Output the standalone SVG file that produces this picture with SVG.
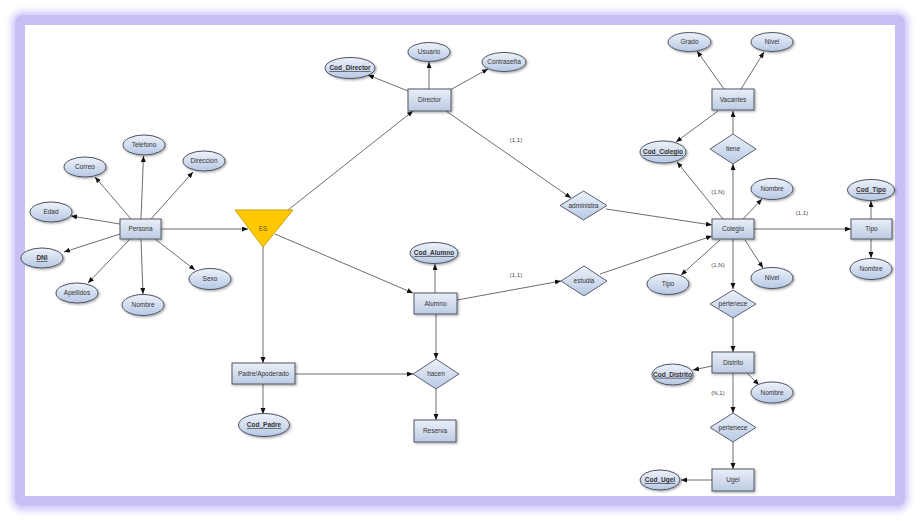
<svg xmlns="http://www.w3.org/2000/svg" width="920" height="521" viewBox="0 0 920 521">
  <defs>
    <linearGradient id="gFill" x1="0" y1="0" x2="0" y2="1">
      <stop offset="0" stop-color="#eef2fa"/>
      <stop offset="1" stop-color="#b7c8e4"/>
    </linearGradient>
    <linearGradient id="gRect" x1="0" y1="0" x2="0" y2="1">
      <stop offset="0" stop-color="#eaeff8"/>
      <stop offset="1" stop-color="#bccbe3"/>
    </linearGradient>
    <filter id="glow" x="-5%" y="-5%" width="110%" height="110%">
      <feGaussianBlur stdDeviation="3"/>
    </filter>
    <filter id="shadow" x="-20%" y="-20%" width="150%" height="160%">
      <feDropShadow dx="1.2" dy="1.2" stdDeviation="0.8" flood-color="#000" flood-opacity="0.35"/>
    </filter>
    <marker id="arrow" markerUnits="userSpaceOnUse" markerWidth="7" markerHeight="6" refX="6" refY="2.5" orient="auto">
      <path d="M0,0 L6,2.5 L0,5 z" fill="#111"/>
    </marker>
  </defs>
  <style>
    .ent { fill: url(#gRect); stroke: #505866; stroke-width: 1; filter: url(#shadow); }
    .att { fill: url(#gFill); stroke: #4e5564; stroke-width: 1; filter: url(#shadow); }
    .rel { fill: url(#gFill); stroke: #5a6170; stroke-width: 1; }
    .lbl { font-family: "Liberation Sans", Arial, sans-serif; font-size: 6.5px; fill: #333; text-anchor: middle; }
    .key { font-weight: bold; text-decoration: underline; }
    .card { font-family: "Liberation Sans", Arial, sans-serif; font-size: 6px; fill: #444; text-anchor: middle; }
    .con { stroke: #6e6e6e; stroke-width: 1; fill: none; marker-end: url(#arrow); }
  </style>

  <!-- frame -->
  <rect x="11" y="11" width="898" height="500" rx="12" fill="#d3cdf9" filter="url(#glow)"/>
  <rect x="15" y="15" width="890" height="491" rx="8" fill="#c8c0f5"/>
  <rect x="25" y="25" width="870" height="471" fill="#ffffff"/>

  <!-- connectors -->
  <g id="connectors">
    <line class="con" x1="141" y1="219" x2="143.5" y2="156"/>
    <line class="con" x1="131" y1="219" x2="95" y2="177"/>
    <line class="con" x1="151" y1="219" x2="193" y2="172"/>
    <line class="con" x1="120" y1="224" x2="71" y2="216"/>
    <line class="con" x1="120" y1="234" x2="64" y2="252"/>
    <line class="con" x1="130" y1="239" x2="88" y2="283"/>
    <line class="con" x1="141" y1="239" x2="143" y2="294"/>
    <line class="con" x1="155" y1="239" x2="195" y2="270"/>
    <line class="con" x1="161" y1="229" x2="248" y2="229"/>

    <line class="con" x1="288" y1="210" x2="413" y2="111"/>
    <line class="con" x1="275" y1="234" x2="413" y2="293"/>
    <line class="con" x1="263" y1="247" x2="263" y2="363"/>

    <line class="con" x1="408" y1="91" x2="368" y2="75"/>
    <line class="con" x1="429" y1="89" x2="429" y2="62"/>
    <line class="con" x1="450" y1="90" x2="488" y2="69"/>
    <line class="con" x1="446" y1="111" x2="571" y2="198"/>
    <line class="con" x1="606" y1="209" x2="712" y2="225"/>

    <line class="con" x1="435" y1="293" x2="435" y2="264"/>
    <line class="con" x1="457" y1="300" x2="561" y2="281"/>
    <line class="con" x1="600" y1="274" x2="712" y2="236"/>
    <line class="con" x1="436" y1="314" x2="436" y2="359"/>
    <line class="con" x1="295" y1="374" x2="413" y2="374"/>
    <line class="con" x1="436" y1="389" x2="436" y2="420"/>
    <line class="con" x1="263" y1="384" x2="263" y2="414"/>

    <line class="con" x1="733" y1="219" x2="733" y2="164"/>
    <line class="con" x1="733" y1="134" x2="733" y2="111"/>
    <line class="con" x1="724" y1="89" x2="697" y2="51"/>
    <line class="con" x1="741" y1="89" x2="764" y2="52"/>
    <line class="con" x1="718" y1="111" x2="676" y2="142"/>
    <line class="con" x1="723" y1="219" x2="677" y2="162"/>
    <line class="con" x1="743" y1="219" x2="762" y2="199"/>
    <line class="con" x1="754" y1="229" x2="851" y2="229"/>
    <line class="con" x1="871" y1="219" x2="871" y2="201"/>
    <line class="con" x1="871" y1="239" x2="871" y2="258"/>
    <line class="con" x1="720" y1="240" x2="681" y2="275"/>
    <line class="con" x1="745" y1="240" x2="763" y2="268"/>
    <line class="con" x1="733" y1="239" x2="733" y2="289"/>
    <line class="con" x1="733" y1="318" x2="733" y2="352"/>
    <line class="con" x1="712" y1="366" x2="693" y2="370"/>
    <line class="con" x1="747" y1="373" x2="759" y2="385"/>
    <line class="con" x1="733" y1="373" x2="733" y2="413"/>
    <line class="con" x1="733" y1="442" x2="733" y2="469"/>
    <line class="con" x1="712" y1="480" x2="681" y2="480"/>
  </g>

  <!-- cardinalities -->
  <g id="cardinalities">
    <text class="card" x="516" y="142">(1,1)</text>
    <text class="card" x="516" y="277">(1,1)</text>
    <text class="card" x="718" y="194">(1,N)</text>
    <text class="card" x="802" y="215">(1,1)</text>
    <text class="card" x="718" y="267">(1,N)</text>
    <text class="card" x="718" y="395">(N,1)</text>
  </g>

  <!-- Persona and attributes -->
  <g id="persona"><rect class="ent" x="120" y="219" width="41" height="20"/><text class="lbl" x="140.5" y="231.3">Persona</text></g>
  <g id="telefono"><ellipse class="att" cx="144" cy="145" rx="21" ry="10"/><text class="lbl" x="144" y="147.3">Telefono</text></g>
  <g id="correo"><ellipse class="att" cx="85" cy="167" rx="21" ry="10"/><text class="lbl" x="85" y="169.3">Correo</text></g>
  <g id="direccion"><ellipse class="att" cx="204" cy="161" rx="21" ry="10"/><text class="lbl" x="204" y="163.3">Direccion</text></g>
  <g id="edad"><ellipse class="att" cx="51" cy="212" rx="21" ry="10"/><text class="lbl" x="51" y="214.3">Edad</text></g>
  <g id="dni"><ellipse class="att" cx="42" cy="258" rx="21" ry="10"/><text class="lbl key" x="42" y="260.3">DNI</text></g>
  <g id="apellidos"><ellipse class="att" cx="77" cy="293" rx="21" ry="10"/><text class="lbl" x="77" y="295.3">Apellidos</text></g>
  <g id="nombre-persona"><ellipse class="att" cx="143" cy="305" rx="21" ry="10.5"/><text class="lbl" x="143" y="307.3">Nombre</text></g>
  <g id="sexo"><ellipse class="att" cx="210" cy="279" rx="21" ry="10.5"/><text class="lbl" x="210" y="281.3">Sexo</text></g>

  <!-- ES specialization -->
  <g id="es">
    <polygon points="235,210 293,210 263,247" fill="#ffc800" stroke="#c9a200" stroke-width="1"/>
    <text class="lbl" x="263" y="231.3" fill="#6b5410" style="fill:#6b5410">ES</text>
  </g>

  <!-- Director -->
  <g id="director"><rect class="ent" x="408" y="89" width="43" height="22"/><text class="lbl" x="429.5" y="102.3">Director</text></g>
  <g id="cod-director"><ellipse class="att" cx="350" cy="68" rx="25" ry="10.5"/><text class="lbl key" x="350" y="70.3">Cod_Director</text></g>
  <g id="usuario"><ellipse class="att" cx="429" cy="52" rx="21" ry="9.5"/><text class="lbl" x="429" y="54.3">Usuario</text></g>
  <g id="contrasena"><ellipse class="att" cx="504" cy="62" rx="22" ry="9.5"/><text class="lbl" x="504" y="64.3">Contraseña</text></g>
  <g id="administra"><polygon class="rel" points="560,205.5 583.5,191 607,205.5 583.5,220"/><text class="lbl" x="583.5" y="207.8">administra</text></g>

  <!-- Alumno -->
  <g id="alumno"><rect class="ent" x="414" y="293" width="43" height="21"/><text class="lbl" x="435.5" y="305.8">Alumno</text></g>
  <g id="cod-alumno"><ellipse class="att" cx="434" cy="253" rx="24" ry="10.5"/><text class="lbl key" x="434" y="255.3">Cod_Alumno</text></g>
  <g id="estudia"><polygon class="rel" points="561,281 584,266 607,281 584,296"/><text class="lbl" x="584" y="283.3">estudia</text></g>
  <g id="hacen"><polygon class="rel" points="413,374 436,359 459,374 436,389"/><text class="lbl" x="436" y="376.3">hacen</text></g>
  <g id="reserva"><rect class="ent" x="414" y="420" width="42" height="22"/><text class="lbl" x="435" y="433.3">Reserva</text></g>

  <!-- Padre/Apoderado -->
  <g id="padre"><rect class="ent" x="232" y="363" width="63" height="21"/><text class="lbl" x="263.5" y="375.8">Padre/Apoderado</text></g>
  <g id="cod-padre"><ellipse class="att" cx="264" cy="425" rx="25.5" ry="11.5"/><text class="lbl key" x="264" y="427.3">Cod_Padre</text></g>

  <!-- Colegio and related -->
  <g id="colegio"><rect class="ent" x="712" y="219" width="42" height="20"/><text class="lbl" x="733" y="231.3">Colegio</text></g>
  <g id="tiene"><polygon class="rel" points="710,149 733,134 756,149 733,164"/><text class="lbl" x="733" y="151.3">tiene</text></g>
  <g id="vacantes"><rect class="ent" x="712" y="89" width="42" height="21"/><text class="lbl" x="733" y="101.8">Vacantes</text></g>
  <g id="grado"><ellipse class="att" cx="689.5" cy="42" rx="21.5" ry="9.5"/><text class="lbl" x="689.5" y="44.3">Grado</text></g>
  <g id="nivel-vacantes"><ellipse class="att" cx="772" cy="42" rx="21" ry="9.5"/><text class="lbl" x="772" y="44.3">Nivel</text></g>
  <g id="cod-colegio"><ellipse class="att" cx="663" cy="152" rx="23" ry="11"/><text class="lbl key" x="663" y="154.3">Cod_Colegio</text></g>
  <g id="nombre-colegio"><ellipse class="att" cx="772" cy="189" rx="21" ry="10.5"/><text class="lbl" x="772" y="191.3">Nombre</text></g>
  <g id="tipo-attr"><ellipse class="att" cx="668" cy="284" rx="21" ry="10.5"/><text class="lbl" x="668" y="286.3">Tipo</text></g>
  <g id="nivel-colegio"><ellipse class="att" cx="772" cy="278" rx="21" ry="10.5"/><text class="lbl" x="772" y="280.3">Nivel</text></g>

  <!-- Tipo -->
  <g id="tipo"><rect class="ent" x="851" y="219" width="41" height="20"/><text class="lbl" x="871.5" y="231.3">Tipo</text></g>
  <g id="cod-tipo"><ellipse class="att" cx="871" cy="190" rx="23.5" ry="10.5"/><text class="lbl key" x="871" y="192.3">Cod_Tipo</text></g>
  <g id="nombre-tipo"><ellipse class="att" cx="871" cy="269" rx="21" ry="10.5"/><text class="lbl" x="871" y="271.3">Nombre</text></g>

  <!-- Distrito -->
  <g id="pertenece-1"><polygon class="rel" points="710,304 733,290 756,304 733,318"/><text class="lbl" x="733" y="306.3">pertenece</text></g>
  <g id="distrito"><rect class="ent" x="712" y="352" width="42" height="21"/><text class="lbl" x="733" y="364.8">Distrito</text></g>
  <g id="cod-distrito"><ellipse class="att" cx="672.5" cy="374.5" rx="20.5" ry="10.5"/><text class="lbl key" x="672.5" y="376.8">Cod_Distrito</text></g>
  <g id="nombre-distrito"><ellipse class="att" cx="772" cy="392.5" rx="21" ry="10.5"/><text class="lbl" x="772" y="394.8">Nombre</text></g>

  <!-- Ugel -->
  <g id="pertenece-2"><polygon class="rel" points="710,427.5 733,413 756,427.5 733,442"/><text class="lbl" x="733" y="429.8">pertenece</text></g>
  <g id="ugel"><rect class="ent" x="712" y="469" width="42" height="22"/><text class="lbl" x="733" y="482.3">Ugel</text></g>
  <g id="cod-ugel"><ellipse class="att" cx="660" cy="480" rx="20" ry="10"/><text class="lbl key" x="660" y="482.3">Cod_Ugel</text></g>
</svg>
